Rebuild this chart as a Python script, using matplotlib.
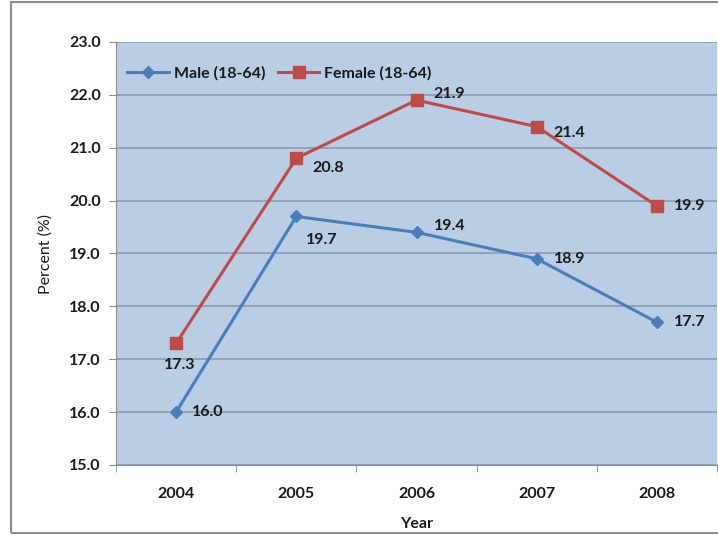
import matplotlib.pyplot as plt
from matplotlib.patches import Rectangle

plt.rcParams['font.family'] = ['Lato', 'DejaVu Sans']

years = ['2004', '2005', '2006', '2007', '2008']
male = [16.0, 19.7, 19.4, 18.9, 17.7]
female = [17.3, 20.8, 21.9, 21.4, 19.9]

# label offsets in pixels (dx, dy) relative to each point
male_offsets = [(16, 0), (10, -24), (17, 6), (17, 0), (17, 0)]
female_offsets = [(-12, -22), (16, -10), (17, 6), (17, -6), (17, 0)]

FS = 11.5
TXT = '#1a1a1a'

fig = plt.figure(figsize=(7.18, 5.35), dpi=100)
fig.patches.append(Rectangle((11 / 718, 2 / 535), 720 / 718, 531 / 535,
                             transform=fig.transFigure, fill=False,
                             edgecolor='#8c8c8c', linewidth=1.5))

ax = fig.add_axes([116 / 718, 70 / 535, 601 / 718, 423 / 535])
ax.set_facecolor('#b9cde5')

x = list(range(len(years)))
ax.plot(x, male, color='#4a7ebb', linewidth=2.2, marker='D', markersize=6,
        label='Male (18-64)', zorder=3)
ax.plot(x, female, color='#be4b48', linewidth=2.2, marker='s', markersize=8,
        label='Female (18-64)', zorder=3)

for xi, v, (dx, dy) in zip(x, male, male_offsets):
    ax.annotate(f'{v:.1f}', (xi, v), xytext=(dx, dy), textcoords='offset pixels',
                ha='left', va='center', fontsize=FS, fontweight='bold',
                color=TXT)
for xi, v, (dx, dy) in zip(x, female, female_offsets):
    ax.annotate(f'{v:.1f}', (xi, v), xytext=(dx, dy), textcoords='offset pixels',
                ha='left', va='center', fontsize=FS, fontweight='bold',
                color=TXT)

ax.set_xlim(-0.5, len(years) - 0.5)
ax.set_ylim(15, 23)
ax.set_yticks([15 + i for i in range(9)])
ax.set_yticklabels([f'{15 + i:.1f}' for i in range(9)], fontsize=FS,
                   fontweight='bold', color=TXT)
ax.set_xticks(x)
ax.set_xticklabels(years, fontsize=FS, fontweight='bold', color=TXT)
ax.set_xticks([i - 0.5 for i in range(len(years) + 1)], minor=True)
ax.tick_params(axis='x', which='major', length=0, pad=16)
ax.tick_params(axis='x', which='minor', length=5, color='#8c8c8c')
ax.tick_params(axis='y', length=5, color='#8c8c8c', pad=6)

ax.grid(axis='y', color='#8c9bb0', linewidth=1.2)
ax.set_axisbelow(True)
for side in ['top', 'right']:
    ax.spines[side].set_visible(False)
ax.spines['left'].set_color('#8c8c8c')
ax.spines['bottom'].set_color('#8c8c8c')

ax.set_ylabel('Percent (%)', fontsize=FS, color=TXT, labelpad=12)
ax.set_xlabel('Year', fontsize=FS, fontweight='bold', color=TXT, labelpad=11)

ax.legend(loc='upper left', bbox_to_anchor=(0.0, 0.97), ncol=2, frameon=False,
          prop={'weight': 'bold', 'size': FS},
          handlelength=2.6, columnspacing=0.8, handletextpad=0.3,
          borderaxespad=0.3)
for t in ax.get_legend().get_texts():
    t.set_color(TXT)

fig.savefig('out.png', dpi=100)
